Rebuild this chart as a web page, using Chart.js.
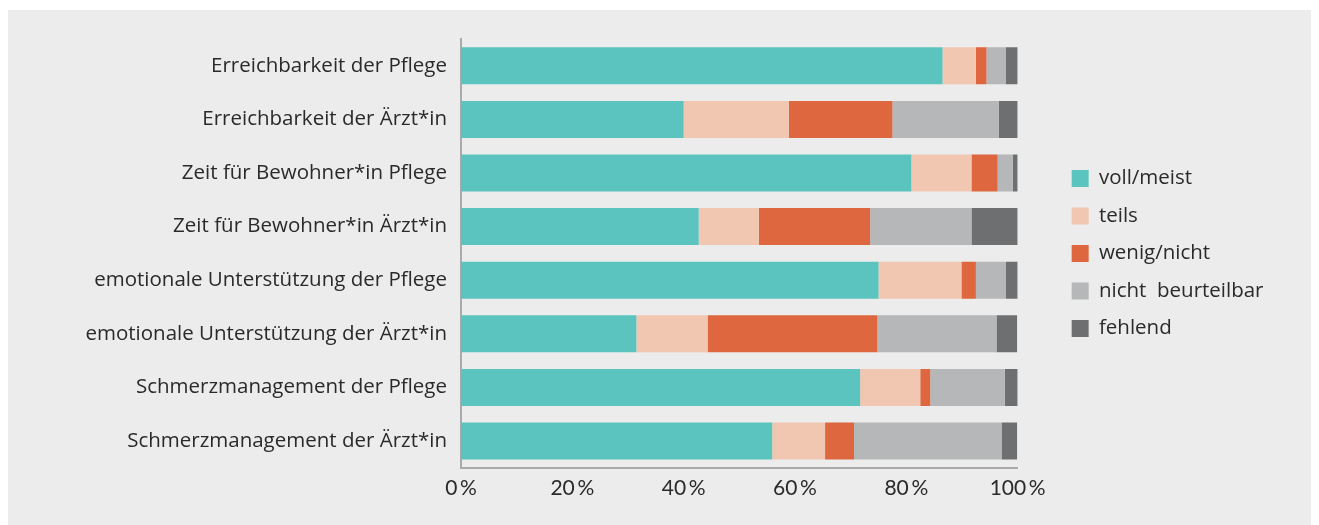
<!DOCTYPE html>
<html>
<head>
<meta charset="utf-8">
<script src="https://cdn.jsdelivr.net/npm/chart.js@4"></script>
<style>
  body { margin: 0; background: #ffffff; }
  #rahmen { position: absolute; left: 8px; top: 10px; width: 1303px; height: 515px; background: #ebeceb; }
</style>
</head>
<body>
<div id="rahmen"><canvas id="grafik"></canvas></div>
<script>
const kategorien = [
  "Erreichbarkeit der Pflege",
  "Erreichbarkeit der Ärzt*in",
  "Zeit für Bewohner*in Pflege",
  "Zeit für Bewohner*in Ärzt*in",
  "emotionale Unterstützung der Pflege",
  "emotionale Unterstützung der Ärzt*in",
  "Schmerzmanagement der Pflege",
  "Schmerzmanagement der Ärzt*in"
]
const vollMeist = [86.5, 40.0, 80.9, 42.7, 75.0, 31.5, 71.7, 55.9]
const teils = [6.0, 18.9, 10.8, 10.8, 14.9, 12.8, 10.8, 9.5]
const wenigNicht = [1.9, 18.6, 4.7, 20.0, 2.6, 30.5, 1.8, 5.2]
const nichtBeurteilbar = [3.5, 19.1, 2.7, 18.2, 5.4, 21.4, 13.4, 26.5]
const fehlend = [2.1, 3.4, 0.9, 8.3, 2.1, 3.7, 2.3, 2.8]
const tickWerte = [0, 20, 40, 60, 80, 100]

const schrift = '"Open Sans"'
const textFarbe = '#2a2a2a'
const achsenFarbe = '#a9aaab'

const serie = (label, data, farbe) => ({
  label: label,
  data: data,
  backgroundColor: farbe,
  borderWidth: 0,
  barPercentage: 0.69,
  categoryPercentage: 1
})

const ctx = document.getElementById('grafik')

let grafik = new Chart(ctx, {
  type: 'bar',
  data: {
    labels: kategorien,
    datasets: [
      serie('voll/meist', vollMeist, '#5cc4bf'),
      serie('teils', teils, '#f2c7b1'),
      serie('wenig/nicht', wenigNicht, '#de673f'),
      serie('nicht  beurteilbar', nichtBeurteilbar, '#b6b7b8'),
      serie('fehlend', fehlend, '#6e6f71')
    ]
  },
  options: {
    indexAxis: 'y',
    responsive: true,
    maintainAspectRatio: false,
    animation: false,
    layout: { padding: { top: 29, bottom: 16, left: 0, right: 47 } },
    scales: {
      x: {
        stacked: true,
        min: 0,
        max: 100,
        afterBuildTicks: s => { s.ticks = tickWerte.map(v => ({ value: v })) },
        grid: { display: false, drawTicks: false },
        border: { display: true, color: achsenFarbe, width: 2 },
        ticks: {
          padding: 8,
          color: textFarbe,
          font: { family: 'Lato', size: 21 },
          callback: v => v + '\u2009%'
        }
      },
      y: {
        stacked: true,
        grid: { display: false, drawTicks: false },
        border: { display: true, color: achsenFarbe, width: 2 },
        afterFit: s => { s.width = 453 },
        ticks: {
          padding: 14,
          color: textFarbe,
          font: { family: schrift, size: 20.5 }
        }
      },
      luecke: {
        type: 'category',
        axis: 'y',
        position: 'right',
        grid: { display: false, drawTicks: false },
        border: { display: false },
        ticks: { display: false },
        afterFit: s => { s.width = 37 }
      }
    },
    plugins: {
      tooltip: { enabled: false },
      legend: {
        position: 'right',
        fullSize: false,
        labels: {
          boxWidth: 17,
          boxHeight: 17,
          padding: 17,
          color: textFarbe,
          font: { family: schrift, size: 20.5 }
        }
      }
    }
  }
})
</script>
</body>
</html>
